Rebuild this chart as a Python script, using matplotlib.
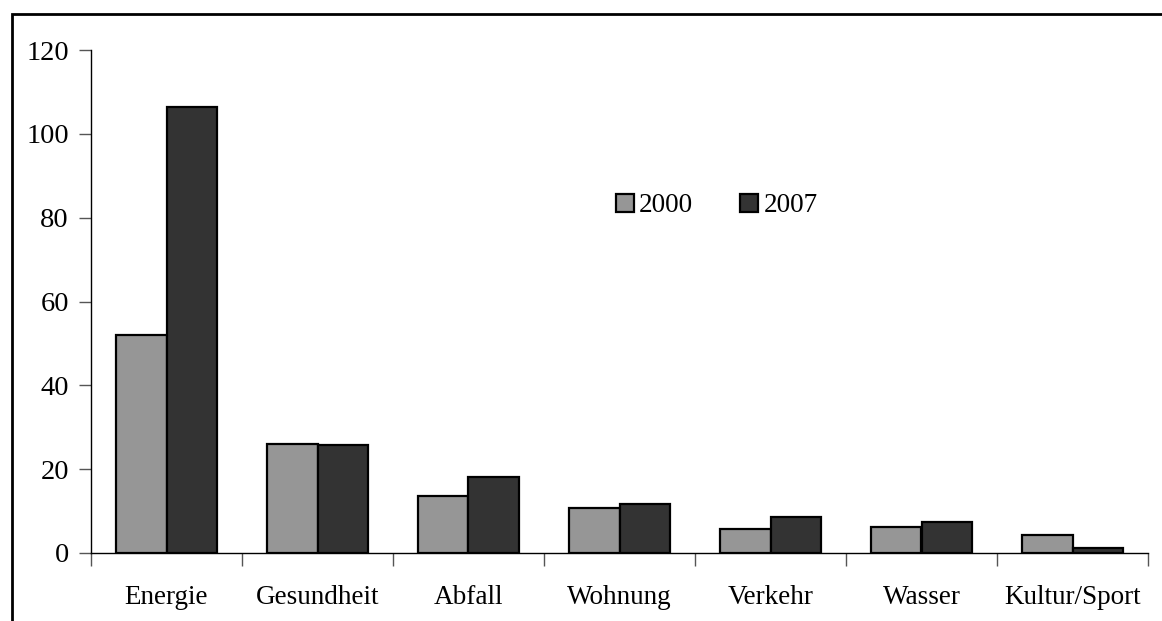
import numpy as np
import matplotlib
matplotlib.use("Agg")
import matplotlib.pyplot as plt
from matplotlib.patches import Rectangle
from matplotlib.ticker import FixedLocator

categories = ["Energie", "Gesundheit", "Abfall", "Wohnung", "Verkehr", "Wasser", "Kultur/Sport"]
values_2000 = [52.0, 26.0, 13.5, 10.7, 5.7, 6.1, 4.4]
values_2007 = [106.3, 25.7, 18.2, 11.8, 8.6, 7.5, 1.3]

plt.rcParams["font.family"] = ["Liberation Serif", "DejaVu Serif"]

fig = plt.figure(figsize=(11.62, 6.21), dpi=100)
ax = fig.add_axes([91 / 1162, 68 / 621, (1148 - 91) / 1162, (553 - 50) / 621])

x = np.arange(len(categories))
w = 1 / 3
ax.bar(x - w / 2, values_2000, w, color="#969696", edgecolor="black", linewidth=1.6, label="2000")
ax.bar(x + w / 2, values_2007, w, color="#333333", edgecolor="black", linewidth=1.6, label="2007")

ax.set_xlim(-0.5, len(categories) - 0.5)
ax.set_ylim(0, 120)
ax.set_yticks(range(0, 121, 20))
ax.tick_params(axis="y", labelsize=20.5, length=9, width=1, color="#555555", pad=7)

ax.xaxis.set_major_locator(FixedLocator(np.arange(len(categories) + 1) - 0.5))
ax.xaxis.set_minor_locator(FixedLocator(x))
ax.set_xticklabels([""] * (len(categories) + 1))
ax.set_xticklabels(categories, minor=True)
ax.tick_params(axis="x", which="major", length=9, width=1, color="#555555")
ax.tick_params(axis="x", which="minor", length=0, labelsize=19.5, pad=23)

for s in ["top", "right"]:
    ax.spines[s].set_visible(False)
ax.spines["left"].set_linewidth(1)
ax.spines["bottom"].set_linewidth(1)

leg = ax.legend(loc="center", bbox_to_anchor=(0.592, 0.690), ncol=2, frameon=False,
                fontsize=19.5, handlelength=0.65, handleheight=0.65, handletextpad=0.2,
                columnspacing=1.75)

fig.patches.append(Rectangle((12 / 1162, -0.1), 1.2, (621 - 14) / 621 + 0.1,
                             transform=fig.transFigure, fill=False,
                             edgecolor="black", linewidth=2, clip_on=False))

fig.savefig("out.png", dpi=100)
